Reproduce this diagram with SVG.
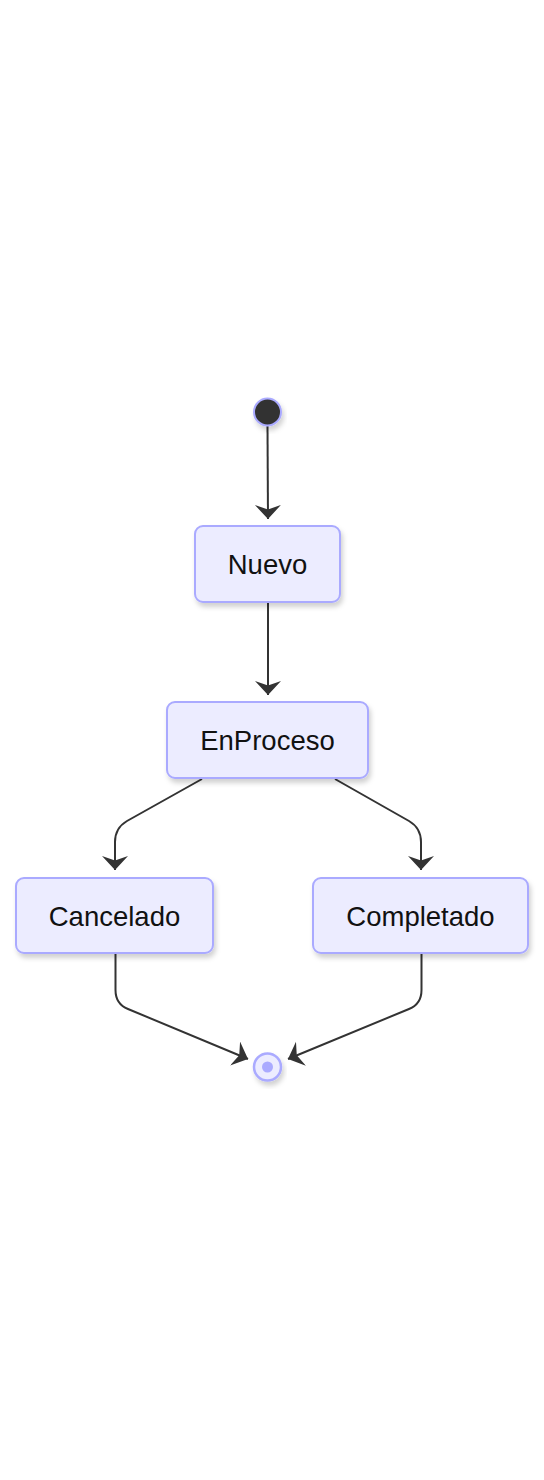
<svg xmlns="http://www.w3.org/2000/svg" width="544" height="1480" viewBox="0 0 544 1480">
<style>
.node rect{fill:#ECECFF;stroke:#AAAAFF;stroke-width:2;filter:url(#sh)}
.node text{font-family:"Liberation Sans",Arial,sans-serif;font-size:27.5px;fill:#111;text-anchor:middle}
.edge{fill:none;stroke:#333;stroke-width:2}
</style>
<defs>
<filter id="sh" x="-20%" y="-20%" width="140%" height="150%">
<feDropShadow dx="2" dy="4" stdDeviation="2.5" flood-color="#000" flood-opacity="0.18"/>
</filter>
<marker id="arr" markerUnits="userSpaceOnUse" markerWidth="16" markerHeight="28" refX="14" refY="13" orient="auto" viewBox="0 0 16 28">
<path d="M14,13 L0,26 L4.5,13 L0,0 Z" fill="#333"/>
</marker>
</defs>
<g id="connectors">
<path class="edge" d="M267.5,426 L268,519" marker-end="url(#arr)"/>
<path class="edge" d="M268,603 L268,695" marker-end="url(#arr)"/>
<path class="edge" d="M202,779 L127,821 Q115,828 115,842 L115,870" marker-end="url(#arr)"/>
<path class="edge" d="M335,779 L409,821 Q421,828 421,842 L421,870" marker-end="url(#arr)"/>
<path class="edge" d="M115.5,954 L115.5,990 Q115.5,1004 128,1009 L248,1059" marker-end="url(#arr)"/>
<path class="edge" d="M421.5,954 L421.5,990 Q421.5,1004 409,1009 L288,1059" marker-end="url(#arr)"/>
</g>
<g id="start">
<circle cx="267.5" cy="412" r="13.5" fill="#333" stroke="#AAAAFF" stroke-width="2" filter="url(#sh)"/>
</g>
<g id="Nuevo" class="node">
<rect x="195" y="526" width="145" height="76" rx="8"/>
<text x="267.5" y="574">Nuevo</text>
</g>
<g id="EnProceso" class="node">
<rect x="167" y="702" width="201" height="76" rx="8"/>
<text x="267.5" y="750">EnProceso</text>
</g>
<g id="Cancelado" class="node">
<rect x="16" y="878" width="197" height="75" rx="8"/>
<text x="114.5" y="926">Cancelado</text>
</g>
<g id="Completado" class="node">
<rect x="313" y="878" width="215" height="75" rx="8"/>
<text x="420.5" y="926">Completado</text>
</g>
<g id="end">
<circle cx="267.5" cy="1067" r="13.5" fill="#ECECFF" stroke="#AAAAFF" stroke-width="2.5" filter="url(#sh)"/>
<circle cx="267.5" cy="1067" r="5.5" fill="#AAAAFF"/>
</g>
</svg>
